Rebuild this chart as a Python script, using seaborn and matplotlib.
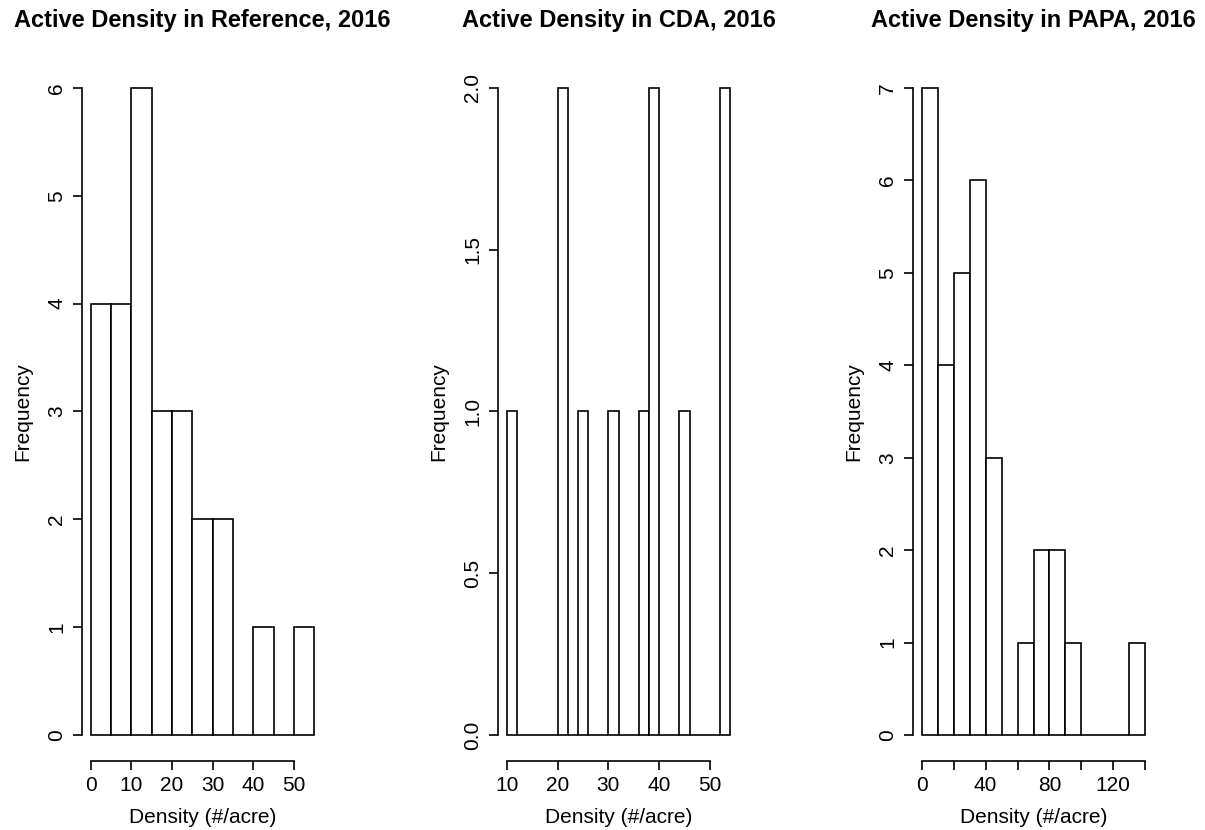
import numpy as np
import pandas as pd
import seaborn as sns
import matplotlib.pyplot as plt

# bin edges and counts
ref_edges = np.arange(0, 60, 5)
ref_counts = [4, 4, 6, 3, 3, 2, 2, 0, 1, 0, 1]

cda_edges = np.arange(10, 56, 2)
cda_counts = [1, 0, 0, 0, 0, 2, 0, 1, 0, 0, 1, 0, 0, 1, 2, 0, 0, 1, 0, 0, 0, 2]

papa_edges = np.arange(0, 150, 10)
papa_counts = [7, 4, 5, 6, 3, 0, 1, 2, 2, 1, 0, 0, 0, 1]

titles = ['Active Density in Reference, 2016',
          'Active Density in CDA, 2016',
          'Active Density in PAPA, 2016']
x_ticks = [[0, 10, 20, 30, 40, 50], [10, 20, 30, 40, 50], list(range(0, 160, 20))]
x_ticklabels = [['0', '10', '20', '30', '40', '50'],
                ['10', '20', '30', '40', '50'],
                ['0', '', '40', '', '80', '', '120', '']]
y_ticks = [list(range(0, 7)), [0.0, 0.5, 1.0, 1.5, 2.0], list(range(0, 8))]
y_ticklabels = [[str(t) for t in y_ticks[0]],
                ['0.0', '0.5', '1.0', '1.5', '2.0'],
                [str(t) for t in y_ticks[2]]]

sns.set_style('white')
plt.rcParams['font.family'] = ['Liberation Sans', 'DejaVu Sans']
plt.rcParams['text.color'] = 'black'
plt.rcParams['axes.labelcolor'] = 'black'

W, H = 1205, 830
fig = plt.figure(figsize=(W / 100, H / 100), dpi=100)

# R-style plot regions (4% padding around the data range)
lefts = [82, 498, 913]
top, bottom, width = 62, 761, 241

panels = [(ref_edges, ref_counts), (cda_edges, cda_counts), (papa_edges, papa_counts)]
for k, (edges, counts) in enumerate(panels):
    ax = fig.add_axes([lefts[k] / W, 1 - bottom / H, width / W, (bottom - top) / H])
    df = pd.DataFrame({'center': (edges[:-1] + edges[1:]) / 2, 'count': counts})
    sns.histplot(data=df, x='center', weights='count', bins=list(edges), ax=ax,
                 color='white', edgecolor='black', linewidth=1.2, alpha=1)

    lo, hi = edges[0], edges[-1]
    span = hi - lo
    ax.set_xlim(lo - 0.04 * span, hi + 0.04 * span)
    ymax = max(y_ticks[k])
    ax.set_ylim(-0.04 * ymax, 1.04 * ymax)

    for s in ['top', 'right']:
        ax.spines[s].set_visible(False)
    for s in ['left', 'bottom']:
        ax.spines[s].set_linewidth(1.2)
        ax.spines[s].set_color('black')
    ax.spines['left'].set_bounds(0, ymax)
    ax.spines['bottom'].set_bounds(x_ticks[k][0], x_ticks[k][-1])

    ax.set_xticks(x_ticks[k])
    ax.set_xticklabels(x_ticklabels[k])
    ax.set_yticks(y_ticks[k])
    ax.set_yticklabels(y_ticklabels[k])
    ax.tick_params(axis='both', direction='out', length=6.5, width=1.2,
                   colors='black', labelsize=15, bottom=True, left=True)
    ax.tick_params(axis='x', pad=4)
    ax.tick_params(axis='y', labelrotation=90, pad=5)
    for lab in ax.get_yticklabels():
        lab.set_va('center')

    ax.set_xlabel('Density (#/acre)', fontsize=15)
    ax.set_ylabel('Frequency', fontsize=15)
    ax.xaxis.set_label_coords(0.5, -47 / (bottom - top))
    ax.yaxis.set_label_coords(-50 / width, 0.5)
    ax.set_title(titles[k], fontsize=17, fontweight='bold', pad=25)

fig.savefig('out.png', dpi=100)
